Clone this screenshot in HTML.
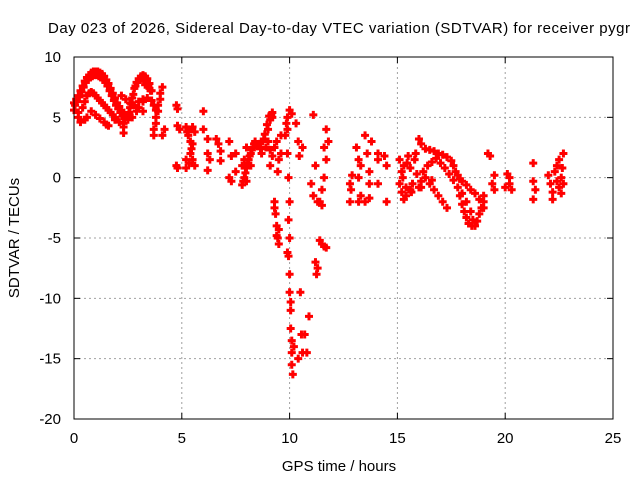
<!DOCTYPE html>
<html><head><meta charset="utf-8"><style>
body{margin:0;background:#fff}
svg{display:block;font-family:"Liberation Sans",sans-serif;font-size:15px}
</style></head><body>
<svg id="chart" width="640" height="480">
<text x="48" y="33" textLength="582" lengthAdjust="spacing">Day 023 of 2026, Sidereal Day-to-day VTEC variation (SDTVAR) for receiver pygr</text>
<text x="339" y="471" text-anchor="middle">GPS time / hours</text>
<text transform="translate(19,238) rotate(-90)" text-anchor="middle">SDTVAR / TECUs</text>
<g id="grid"></g><g id="ticks"></g><g id="marks"></g>
<rect x="74" y="57" width="539" height="362" fill="none" stroke="#000" stroke-width="1"/>
</svg>
<script>
const xTicks=[0,5,10,15,20,25];
const yTicks=[10,5,0,-5,-10,-15,-20];
const hours=[0,0.1,0.2,0.3,0.4,0.5,0.6,0.7,0.8,0.9,1,1.1,1.2,1.3,1.4,1.5,1.6,1.7,1.8,1.9,2,2.1,2.2,2.3,2.4,
2.5,2.6,2.7,2.8,2.9,3,3.1,3.2,3.3,3.4,3.5,3.6,
0.05,0.15,0.25,0.35,0.45,0.55,0.65,0.75,0.85,0.95,1.05,1.15,1.25,1.35,1.45,1.55,1.65,1.75,1.85,1.95,2.05,2.15,2.25,2.35,
2.55,2.65,2.75,2.85,2.95,3.05,3.15,3.25,3.35,3.45,3.55,
0,0.2,0.4,0.5,0.6,0.7,0.8,0.9,1,1.1,1.2,1.3,1.4,1.5,1.6,1.7,1.8,1.9,
0.2,0.3,0.5,0.6,0.8,1,1.2,1.4,1.5,1.6,
1.9,2.1,2.3,2.5,2.7,2.9,3,3.2,3.4,3.6,3.7,3.8,
2.2,2.4,2.6,2.8,3,3.2,
3.7,3.7,3.8,3.8,3.9,3.9,4,4,4.1,4.1,4.2,3.5,3.3,3.2,2.3,2.3,
4.75,4.8,4.8,4.9,4.75,4.8,
5.2,5.3,5.4,5.3,5.5,5.4,5.5,5.6,5.2,5.6,5.5,5.2,6,5.25,5.45,5.35,
6.2,6.2,6.3,6.2,6,
6.6,6.7,6.8,6.8,7.2,7.3,7.2,7.3,7.5,7.5,
7.8,7.9,8,8.1,8.2,8.3,8.4,8,7.9,7.8,8,8.2,7.85,7.95,8.05,8.15,8.25,8.35,
8.6,8.8,9,9.1,9.2,8.7,8.9,9,9.1,9.2,9.3,9.1,8.5,8.65,8.75,8.85,8.95,9.05,9.15,
9.2,9.3,9.3,9.35,9.4,9.45,9.5,9.4,9.5,9.6,9.6,9.4,9.5,9.45,
9.9,9.9,9.9,9.95,10,10,9.95,10,10,10.05,10.05,10.1,10.1,10.1,10.15,9.9,9.8,10.1,10,9.85,9.95,10.05,
10.3,10.4,10.45,10.6,10.55,10.7,10.8,10.6,10.4,10.5,10.9,10.2,
11.1,11.2,11.1,11.3,11.2,11.25,11.3,11.4,11.5,11.6,11.7,11.4,11.5,11.6,11.7,11.6,11.8,11.7,11,11.5,
12.8,12.85,12.9,12.8,13.1,13.2,13.3,13.2,13.3,13.2,13.5,13.5,13.6,13.7,13.7,13.7,13.8,14.1,14.1,14.1,14.5,14.5,14.4,
15.1,15.2,15.1,15.2,15.3,15.4,15.5,15.6,15.7,15.6,15.3,15.8,15.9,16,16.1,15.4,15.25,15.45,15.65,15.85,
16,16.1,16.3,16.5,16.7,16.9,17.1,17.3,17.5,17.6,17.7,17.8,17.9,18,18.2,18.4,18.6,18.8,19,19,
16.2,16.4,16.6,16.8,17,17.2,17.4,17.6,17.8,18,18.2,18.4,18.5,18.6,18.7,18.8,18.9,19,
16.3,16.5,16.7,16.9,17.1,17.3,16.6,16.1,
17.9,18,18.1,18.2,18.3,18.45,
19.4,19.5,19.5,19.2,19.3,
20.1,20.2,20.3,20,20.2,
21.3,21.3,21.4,21.3,
22,22.1,22.2,22.3,22.4,22.5,22.6,22.5,22.7,22.6,22.2,22.7,22.4,22.65];
const values=[6.2,6.5,6.8,7.2,7.6,8,8.3,8.5,8.7,8.8,8.8,8.8,8.7,8.6,8.4,8.1,7.8,7.4,7,6.6,6.2,5.9,5.6,5.3,5.1,
5.2,5.8,6.6,7.4,7.9,8.2,8.4,8.5,8.4,8.2,7.8,7.2,
6.0,6.3,6.7,7.1,7.5,7.9,8.1,8.3,8.4,8.5,8.5,8.4,8.3,8.1,7.9,7.6,7.2,6.8,6.4,6.0,5.7,5.4,5.1,4.9,
5.4,6.1,6.9,7.6,7.9,8.1,8.2,8.1,7.9,7.6,7.2,
5.6,5.4,5.8,6.3,6.8,7,7.1,7,6.8,6.6,6.4,6.2,6,5.8,5.6,5.4,5.2,5,
5,4.6,4.8,5,5.5,5.2,4.9,4.6,4.4,4.3,
4.8,4.6,4.5,4.8,5,5.5,5.8,6.3,6.6,6.4,6,5.6,
6.8,6.5,6.2,6,6.3,6.5,
3.5,4,4.5,5,5.5,6,6.5,7,7.5,3.5,4,7.4,7.7,5.5,4.2,3.7,
6,5.7,4.3,4,1,0.8,
4.2,3.5,3,4,2.8,2,1.5,1,1.5,3.8,4.2,0.8,5.5,3.8,2.4,1.2,
3.2,2,1.5,0.6,4,
3.2,2.8,2.2,1.4,3,1.8,0,-0.3,2,0.5,
-0.6,0,0.8,1.5,2,2.5,3,2.5,1.5,1,-0.3,1,-0.3,0.4,1.2,1.8,2.3,2.8,
2.8,3.2,4,4.8,5.4,2,2.5,3,2.3,1.8,2.5,1,2.6,2.4,3,3.6,4.4,5.1,5.2,
5,-2.5,-2,-3,-4,-5,-5.5,-4.8,-4.3,3.5,2,3,1.5,0.5,
5,4,2,0,-2,-5,-6.5,-8,-9.5,-11,-12.5,-13.5,-14.5,-15.5,-16.3,-6.2,3.5,5.3,5.6,4.5,-3.5,-10.3,
4.5,3,1.8,2.5,-13,-13,-14.5,-14.5,-15,-9.5,-11.5,-14,
5.2,1,-1.5,-2,-7,-8,-7.5,-5.2,-5.5,-5.7,-5.8,-2,-1,0,1.5,2.5,3,4,-0.5,-2.3,
-2,-1,0.2,-0.5,2.5,1.5,1,0,-1.5,-2,-2,3.5,2,0.5,-0.5,-1.7,3,1.5,-0.5,2,1,-2,1.8,
1.5,0.5,-0.5,-1.2,-1.8,-1.5,1.8,0.8,-0.5,-1,1,1.5,0.3,-0.8,-0.3,-0.8,0,1.2,-1.2,2,
3.2,2.8,2.4,2.3,2.2,2,1.9,1.7,1.4,1,0.5,0.2,-0.1,-0.3,-0.6,-1,-1.3,-1.8,-2.5,-2,
0.5,1,1.3,1.6,1.2,0.8,0.3,-0.2,-0.8,-1.3,-2,-2.8,-3.5,-4,-3.6,-3,-2.5,-1.5,
0,-0.5,-1,-1.5,-2,-2.5,-0.2,-0.8,
-1.5,-2.2,-2.8,-3.3,-3.8,-4,
-0.5,0.2,-1,2,1.8,
0.3,-0.5,-1,-0.8,0,
1.2,-0.3,-1,-1.8,
0.2,-0.5,-1.2,0.5,1,1.5,0,-0.8,2,-1.3,-1.8,-0.5,-0.3,0.8];
const NS="http://www.w3.org/2000/svg";
const X0=74,X1=613,Y0=419,Y1=57;
function xs(h){return X0+(h-0)/(25-0)*(X1-X0);}
function ys(v){return Y0-(v+20)/30*(Y0-Y1);}
const grid=document.getElementById('grid'),ticks=document.getElementById('ticks'),marks=document.getElementById('marks');
function mk(t,a,p){const e=document.createElementNS(NS,t);for(const k in a)e.setAttribute(k,a[k]);p.appendChild(e);return e;}
xTicks.forEach(t=>{const x=xs(t);
 if(t>0&&t<25){const g=mk('line',{x1:x,x2:x,y1:Y0,y2:Y1,stroke:'#a0a0a0','stroke-dasharray':'2,3'},grid);
 
 }
 mk('line',{x1:x,x2:x,y1:Y0,y2:Y0-6,stroke:'#000'},ticks);mk('line',{x1:x,x2:x,y1:Y1,y2:Y1+6,stroke:'#000'},ticks);
 const l=mk('text',{x:x,y:443,'text-anchor':'middle'},ticks);l.textContent=t;
 
 });
yTicks.forEach(t=>{const y=ys(t);
 if(t>-20&&t<10){const g=mk('line',{x1:X0,x2:X1,y1:y,y2:y,stroke:'#a0a0a0','stroke-dasharray':'2,3'},grid);
 
 }
 mk('line',{x1:X0,x2:X0+6,y1:y,y2:y,stroke:'#000'},ticks);mk('line',{x1:X1,x2:X1-6,y1:y,y2:y,stroke:'#000'},ticks);
 const l=mk('text',{x:61,y:y+5,'text-anchor':'end'},ticks);l.textContent=t;
 
 });
hours.forEach((h,i)=>{const x=xs(h),y=ys(values[i]);
 const p=mk('path',{d:`M${x-4} ${y}H${x+4}M${x} ${y-4}V${y+4}`,stroke:'#f00','stroke-width':'3',fill:'none'},marks);
 
 });
</script>
</body></html>
